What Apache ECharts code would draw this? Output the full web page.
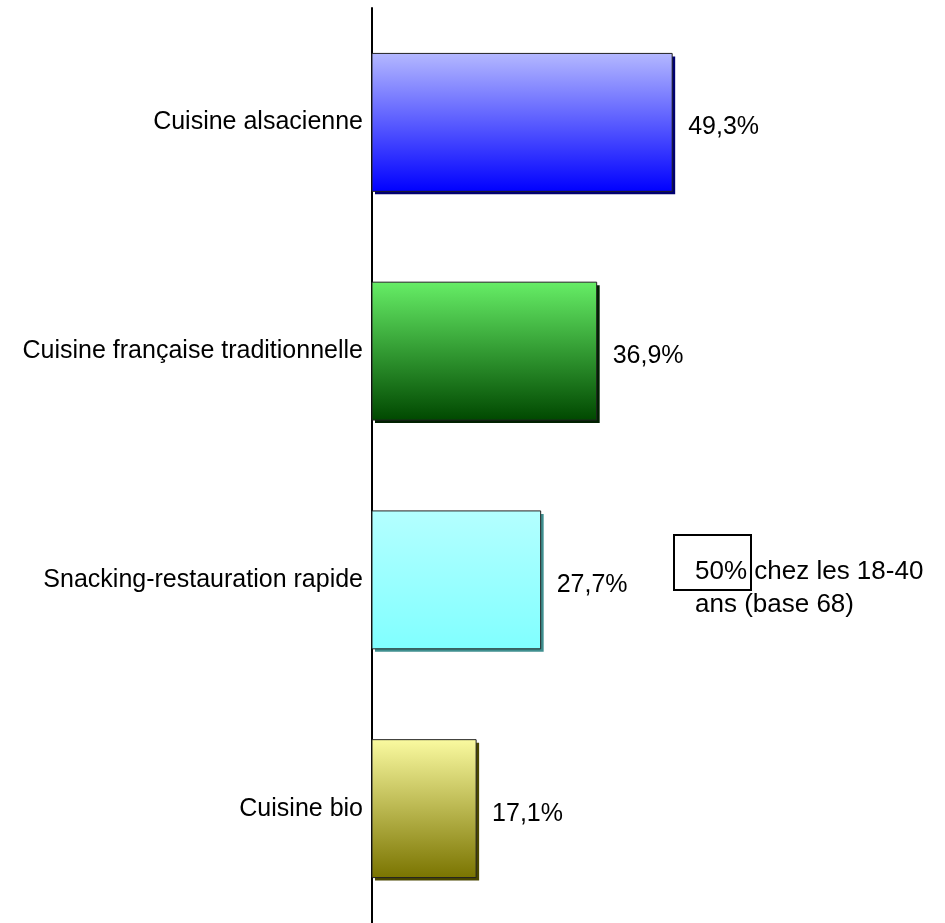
<!DOCTYPE html>
<html><head><meta charset="utf-8">
<script src="https://cdn.jsdelivr.net/npm/echarts@6/dist/echarts.min.js"></script>
<style>html,body{margin:0;padding:0;background:#fff}#c{width:945px;height:923px}</style>
</head><body><div id="c"></div>
<script>
const categories = ['Cuisine alsacienne', 'Cuisine française traditionnelle', 'Snacking-restauration rapide', 'Cuisine bio'];
const values = [49.3, 36.9, 27.7, 17.1];
const gradTop = ['#b4b8ff', '#66ee66', '#b4ffff', '#fafaa0'];
const gradBottom = ['#0000ff', '#004800', '#80ffff', '#7a7400'];
const shadowCols = ['#000070', '#002000', '#3f8f8f', '#4a4700'];
const noteLines = ['50% chez les 18-40', 'ans (base 68)'];

const FONT = '25px "Liberation Sans", Arial, sans-serif';
const chart = echarts.init(document.getElementById('c'));
chart.setOption({
  animation: false,
  grid: { left: 372, top: 8, width: 548, height: 916 },
  xAxis: { type: 'value', min: 0, max: 90, show: false },
  yAxis: {
    type: 'category', data: categories, inverse: true,
    axisLine: { show: true, lineStyle: { color: '#000', width: 2 } },
    axisTick: { show: false },
    axisLabel: { color: '#000', fontFamily: '"Liberation Sans", Arial', fontSize: 25, margin: 9,
      padding: [0, 0, 6, 0] }
  },
  series: [{
    type: 'custom',
    encode: { x: 0, y: 1 },
    data: values.map((v, i) => [v, i]),
    renderItem: function (params, api) {
      const i = params.dataIndex;
      const v = api.value(0);
      const s = api.coord([0, api.value(1)]);
      const e = api.coord([v, api.value(1)]);
      const h = api.size([0, 1])[1] * 0.603;
      const x = s[0], y = s[1] - h / 2, w = e[0] - s[0];
      return {
        type: 'group',
        children: [
          { type: 'rect', shape: { x: x + 3, y: y + 3, width: w, height: h }, style: { fill: shadowCols[i] } },
          { type: 'rect', shape: { x: x, y: y, width: w, height: h },
            style: {
              fill: new echarts.graphic.LinearGradient(0, 0, 0, 1, [
                { offset: 0, color: gradTop[i] }, { offset: 1, color: gradBottom[i] }]),
              stroke: '#222', lineWidth: 1
            } },
          { type: 'text', x: e[0] + 16, y: s[1] + 5,
            style: { text: v.toFixed(1).replace('.', ',') + '%', fill: '#000', font: FONT,
              verticalAlign: 'middle', align: 'left' } }
        ]
      };
    }
  }],
  graphic: [
    { type: 'rect', shape: { x: 674, y: 535, width: 77, height: 55 },
      style: { fill: 'none', stroke: '#000', lineWidth: 2 } },
    { type: 'text', x: 695, y: 555,
      style: { text: noteLines.join('\n'), fill: '#000', font: '26px "Liberation Sans", Arial, sans-serif', lineHeight: 33 } }
  ]
});
</script></body></html>
